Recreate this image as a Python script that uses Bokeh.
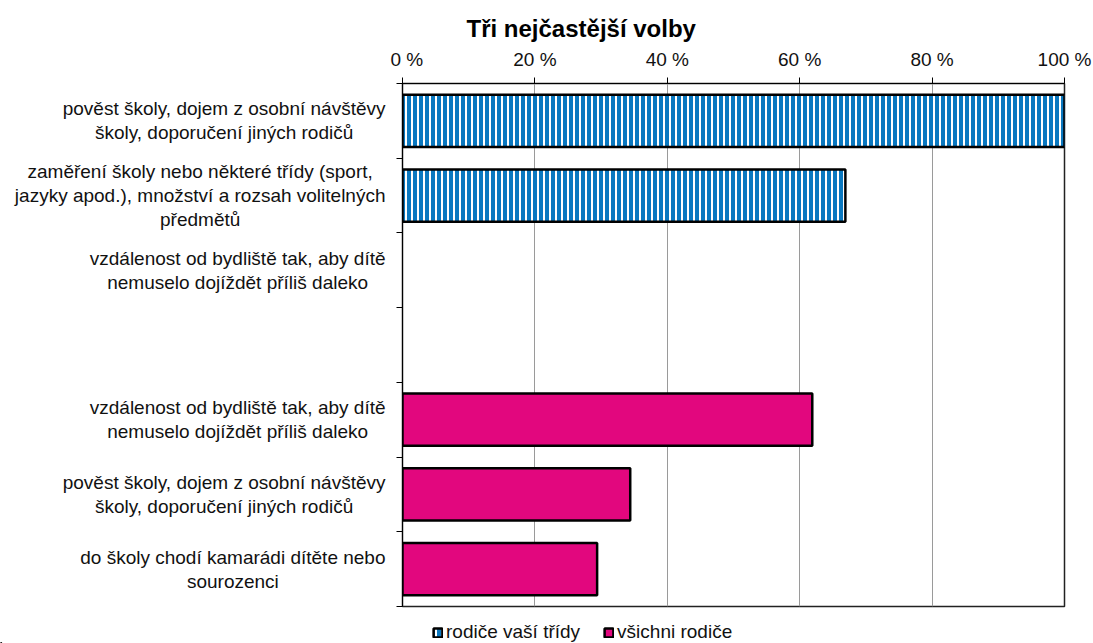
from bokeh.plotting import figure
from bokeh.models import Range1d, FixedTicker, Legend, LegendItem, ColumnDataSource, Label
from bokeh.layouts import row, column
from bokeh.embed import file_html
from bokeh.resources import INLINE

# ---- data ----
categories = [
    "pověst školy, dojem z osobní návštěvy\nškoly, doporučení jiných rodičů",
    "zaměření školy nebo některé třídy (sport,\njazyky apod.), množství a rozsah volitelných\npředmětů",
    "vzdálenost od bydliště tak, aby dítě\nnemuselo dojíždět příliš daleko",
    "",
    "vzdálenost od bydliště tak, aby dítě\nnemuselo dojíždět příliš daleko",
    "pověst školy, dojem z osobní návštěvy\nškoly, doporučení jiných rodičů",
    "do školy chodí kamarádi dítěte nebo\nsourozenci",
]
blue_values = [100.0, 66.9, 0.0, None, None, None, None]
pink_values = [None, None, None, None, 61.9, 34.4, 29.4]
series_names = ["rodiče vaší třídy", "všichni rodiče"]
x_ticks = [0, 20, 40, 60, 80, 100]
x_tick_labels = ["0 %", "20 %", "40 %", "60 %", "80 %", "100 %"]
title_text = "Tři nejčastější volby"

FONT = "Liberation Sans"
BLUE = "#0a78c0"
PINK = "#e2077e"
TXT = "#111111"
BLUE_STYLE = dict(fill_color=BLUE, line_color="black", line_width=2.5,
                  hatch_pattern="vertical_line", hatch_color="white",
                  hatch_scale=6, hatch_weight=2)
PINK_STYLE = dict(fill_color=PINK, line_color="black", line_width=2.5)

n = len(categories)
pos = list(range(1, n + 1))
yr = Range1d(n + 0.5, 0.5)

W, H = 1093, 643
LEFT_W = 390
LEG_H = 27
TOP, BOTTOM = 83, 10
MAIN_H = H - LEG_H


def blank(fig):
    fig.axis.visible = False
    fig.grid.grid_line_color = None
    fig.outline_line_color = None
    fig.background_fill_color = "white"
    fig.border_fill_color = "white"


def bars(values):
    keep = [i for i, v in enumerate(values) if v]
    return ColumnDataSource(dict(y=[pos[i] for i in keep], v=[values[i] for i in keep]))


# ---- left figure: category labels ----
lf = figure(width=LEFT_W, height=MAIN_H, x_range=Range1d(0, LEFT_W), y_range=yr,
            output_backend="svg", toolbar_location=None,
            min_border_left=0, min_border_right=0,
            min_border_top=TOP, min_border_bottom=BOTTOM)
blank(lf)
for yy, txt in zip(pos, categories):
    if txt:
        lf.add_layout(Label(x=385, y=yy, text=txt, anchor="center_right",
                            text_align="center", text_baseline="middle",
                            text_font=FONT, text_font_size="19px",
                            text_color=TXT, text_line_height=1.15))

# ---- main figure ----
p = figure(width=W - LEFT_W, height=MAIN_H,
           x_range=Range1d(0, 100), y_range=yr,
           x_axis_location="above",
           output_backend="svg", toolbar_location=None,
           min_border_left=12, min_border_right=29,
           min_border_top=TOP, min_border_bottom=BOTTOM)

p.title.text = title_text
p.title.text_font = FONT
p.title.text_font_size = "24px"
p.title.text_font_style = "bold"
p.title.text_color = "black"
p.title.align = "left"
p.title.offset = 64
p.title.standoff = 8

p.hbar(y="y", left=0, right="v", height=0.7, source=bars(blue_values), **BLUE_STYLE)
p.hbar(y="y", left=0, right="v", height=0.7, source=bars(pink_values), **PINK_STYLE)

# x axis (top)
xa = p.xaxis[0]
xa.ticker = FixedTicker(ticks=x_ticks)
xa.major_label_overrides = {t: l for t, l in zip(x_ticks, x_tick_labels)}
xa.major_label_text_font = FONT
xa.major_label_text_font_size = "19px"
xa.major_label_text_color = TXT
xa.major_tick_out = 6
xa.major_tick_in = 0
xa.minor_tick_out = 0
xa.minor_tick_in = 0
xa.axis_line_color = "black"
xa.major_tick_line_color = "black"
xa.major_label_standoff = 8

# y axis (ticks at category boundaries only)
ya = p.yaxis[0]
ya.ticker = FixedTicker(ticks=[], minor_ticks=[k + 0.5 for k in range(0, n + 1)])
ya.major_label_standoff = 0
ya.major_tick_out = 0
ya.major_tick_in = 0
ya.minor_tick_out = 6
ya.minor_tick_in = 0
ya.minor_tick_line_color = "black"
ya.axis_line_color = "black"

p.xgrid.grid_line_color = "#9a9a9a"
p.xgrid.ticker = FixedTicker(ticks=x_ticks)
p.ygrid.grid_line_color = None
p.outline_line_color = "#222222"
p.outline_line_width = 1.5
p.background_fill_color = "white"
p.border_fill_color = "white"

# ---- legend strip ----
lg = figure(width=W, height=LEG_H, x_range=Range1d(0, W), y_range=Range1d(0, LEG_H),
            output_backend="svg", toolbar_location=None,
            min_border_left=0, min_border_right=0, min_border_top=0, min_border_bottom=0)
blank(lg)
kb = lg.hbar(y=[-100], left=[0], right=[1], height=1, **BLUE_STYLE)
kp = lg.hbar(y=[-100], left=[0], right=[1], height=1, **PINK_STYLE)
legend = Legend(items=[LegendItem(label=series_names[0], renderers=[kb]),
                       LegendItem(label=series_names[1], renderers=[kp])],
                orientation="horizontal", location=(432, 0),
                glyph_width=11, glyph_height=11, label_standoff=3,
                spacing=23, padding=0, margin=0, label_height=16,
                label_text_font=FONT, label_text_font_size="19px",
                label_text_color=TXT,
                border_line_color=None, background_fill_alpha=0)
lg.add_layout(legend, "center")

layout = column(row(lf, p, spacing=0), lg, spacing=0)
open("out.html", "w").write(file_html(layout, INLINE))
